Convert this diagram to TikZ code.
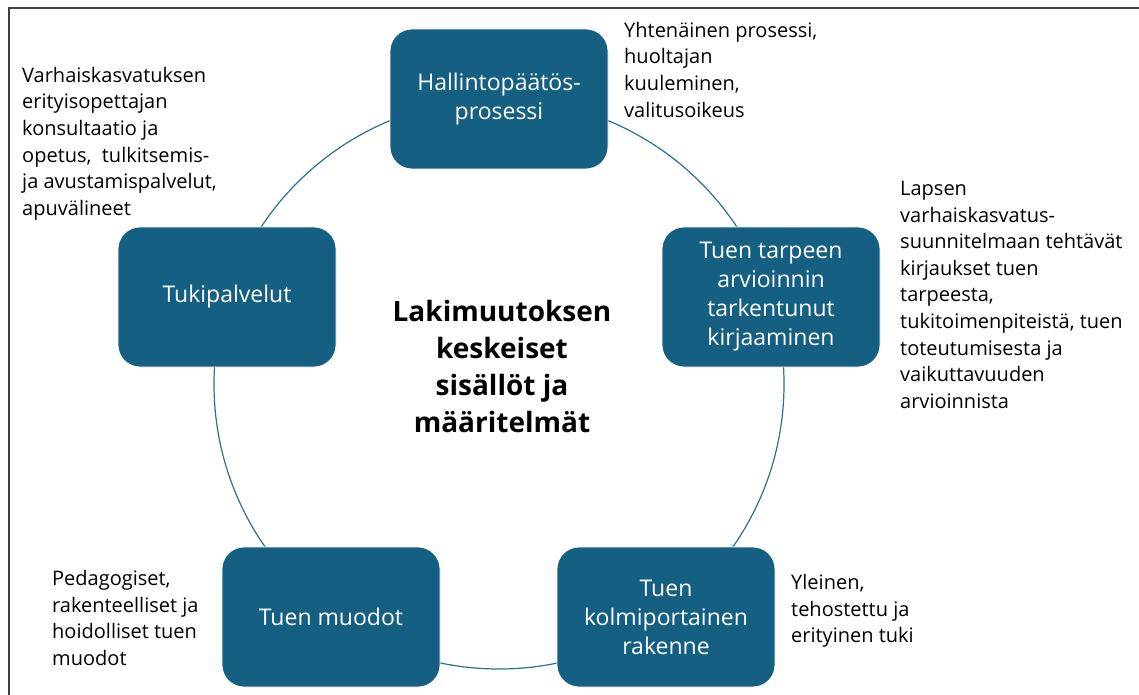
\documentclass[tikz,border=0pt]{standalone}
\usepackage{fontspec}
\setmainfont{Open Sans}
\definecolor{boxblue}{HTML}{156082}
\definecolor{ringblue}{HTML}{2A7099}
\begin{document}
\begin{tikzpicture}[x=1pt, y=-1pt, main node/.style={rectangle,rounded corners=22pt,fill=boxblue,draw=white,line width=0.8pt,minimum width=218pt,minimum height=140pt,inner sep=0pt,text=white,align=center,font=\fontsize{23}{29}\selectfont}, note/.style={anchor=north west,align=left,inner sep=0pt,font=\fontsize{20}{26.6}\selectfont}]
\useasboundingbox (0,0) rectangle (1139,695);
\draw[line width=1.5pt, black!75] (9,695) -- (9,8) -- (1139,8);
% ring behind the boxes
\node[circle, draw=ringblue, line width=1.2pt, minimum size=570pt, inner sep=0pt] (ring) at (499,384) {};
\begin{scope}
\node[main node] (hallinto) at (499,99) {Hallintopäätös-\\prosessi};
\node[main node] (tarve) at (771,297) {Tuen tarpeen\\arvioinnin\\tarkentunut\\kirjaaminen};
\node[main node] (portaat) at (666,617) {Tuen\\kolmiportainen\\rakenne};
\node[main node] (muodot) at (331,617) {Tuen muodot};
\node[main node] (palvelut) at (227,297) {Tukipalvelut};
\end{scope}
\node[font=\bfseries\fontsize{28}{37}\selectfont, align=center, inner sep=0pt] (otsikko) at (502,366) {Lakimuutoksen\\keskeiset\\sisällöt ja\\määritelmät};
\begin{scope}[every node/.style={note}]
\node (n1) at (624,22) {Yhtenäinen prosessi,\\huoltajan\\kuuleminen,\\valitusoikeus};
\node (n2) at (900,181) {Lapsen\\varhaiskasvatus-\\suunnitelmaan tehtävät\\kirjaukset tuen\\tarpeesta,\\tukitoimenpiteistä, tuen\\toteutumisesta ja\\vaikuttavuuden\\arvioinnista};
\node (n3) at (791,574) {Yleinen,\\tehostettu ja\\erityinen tuki};
\node (n4) at (52,570) {Pedagogiset,\\rakenteelliset ja\\hoidolliset tuen\\muodot};
\node (n5) at (22,67) {Varhaiskasvatuksen\\erityisopettajan\\konsultaatio ja\\opetus,~ tulkitsemis-\\ja avustamispalvelut,\\apuvälineet};
\end{scope}
\end{tikzpicture}
\end{document}
